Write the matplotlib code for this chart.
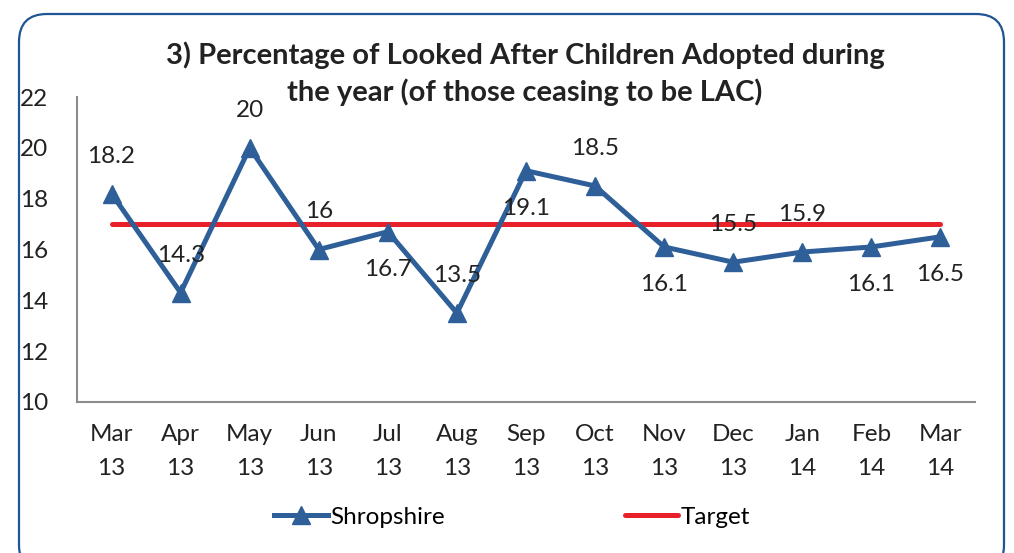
import matplotlib.pyplot as plt
from matplotlib.patches import FancyBboxPatch
from matplotlib.transforms import IdentityTransform

plt.rcParams['font.family'] = ['Lato', 'DejaVu Sans']

# Дані
months = ['Mar\n13', 'Apr\n13', 'May\n13', 'Jun\n13', 'Jul\n13', 'Aug\n13', 'Sep\n13',
          'Oct\n13', 'Nov\n13', 'Dec\n13', 'Jan\n14', 'Feb\n14', 'Mar\n14']
shropshire = [18.2, 14.3, 20, 16, 16.7, 13.5, 19.1, 18.5, 16.1, 15.5, 15.9, 16.1, 16.5]
target = [17] * len(months)
label_side = ['up', 'up', 'up', 'up', 'down', 'up', 'down', 'up', 'down', 'up', 'up', 'down', 'down']

blue = '#2F5F98'
red = '#E8202A'
grey = '#8C8C8C'
txt = '#222222'
fs = 17.5

fig = plt.figure(figsize=(10.14, 5.53), dpi=100)
ax = fig.add_axes([77 / 1014, 1 - 402 / 553, (975 - 77) / 1014, (402 - 97) / 553])

x = range(len(months))
ax.plot(x, shropshire, color=blue, lw=3.6, marker='^', ms=13, label='Shropshire', zorder=3)
ax.plot(x, target, color=red, lw=3.6, solid_capstyle='round', label='Target', zorder=2)

for i, v in enumerate(shropshire):
    dy = 27 if label_side[i] == 'up' else -27
    ax.annotate(f'{v:g}', (i, v), xytext=(0, dy), textcoords='offset points',
                ha='center', va='center', fontsize=fs, color=txt, zorder=4)

ax.set_xlim(-0.5, len(months) - 0.5)
ax.set_ylim(10, 22)
ax.set_yticks(range(10, 23, 2))
ax.set_xticks(list(x))
ax.set_xticklabels(months, linespacing=1.75)
ax.tick_params(axis='both', length=0, labelsize=fs, labelcolor=txt)
ax.tick_params(axis='y', pad=21)
ax.tick_params(axis='x', pad=16)
for s in ['top', 'right']:
    ax.spines[s].set_visible(False)
for s in ['left', 'bottom']:
    ax.spines[s].set_color(grey)
    ax.spines[s].set_linewidth(1.5)

fig.text(525 / 1014, 1 - 74 / 553,
         '3) Percentage of Looked After Children Adopted during\nthe year (of those ceasing to be LAC)',
         ha='center', va='center', fontsize=21, fontweight='bold', color=txt, linespacing=1.42)

fig.legend(loc='center', bbox_to_anchor=(512 / 1014, 1 - 517 / 553), ncol=2, frameon=False,
           fontsize=fs, handlelength=2.2, handletextpad=0.1, columnspacing=7.4)

border = FancyBboxPatch((19, -20), 985, 559, boxstyle='round,pad=0,rounding_size=28',
                        transform=IdentityTransform(), fill=False, edgecolor='#1F5592', lw=1.6)
fig.add_artist(border)

fig.savefig('out.png', dpi=100)
